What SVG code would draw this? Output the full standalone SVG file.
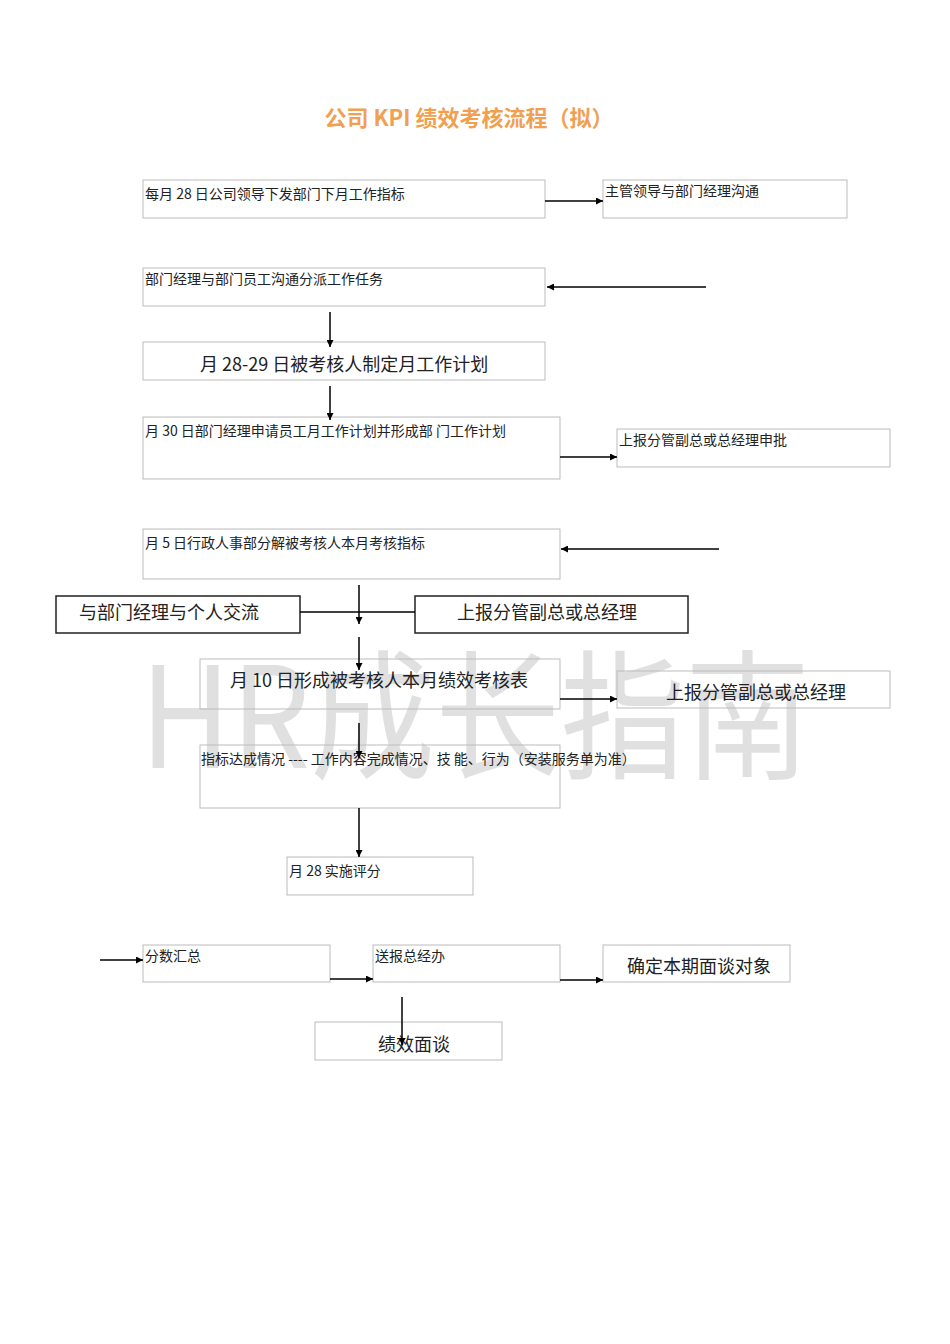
<svg xmlns="http://www.w3.org/2000/svg" width="950" height="1344" viewBox="0 0 950 1344">
<defs>
<marker id="ah" viewBox="0 0 10 10" refX="10" refY="5" markerWidth="7" markerHeight="7" markerUnits="userSpaceOnUse" orient="auto"><path d="M0,0L10,5L0,10z" fill="#000"/></marker>
<style>
.b{fill:#fff;stroke:#bbb;stroke-width:1}
.d{fill:#fff;stroke:#222;stroke-width:1.5}
.t{font-family:"Noto Sans CJK SC","Liberation Serif",serif;font-size:14px;fill:#222}
.L{font-size:18px}
.c line{stroke:#000;stroke-width:1.5}
.a{marker-end:url(#ah)}
</style>
</defs>
<rect width="950" height="1344" fill="#fff"/>
<text x="469" y="126" text-anchor="middle" style="font-family:'Noto Sans CJK SC',sans-serif;font-size:22px;font-weight:bold;fill:#f0a050">公司 KPI 绩效考核流程（拟）</text>
<g id="n1"><rect class="b" x="143" y="180" width="402" height="38"/><text class="t" x="145" y="199">每月 28 日公司领导下发部门下月工作指标</text></g>
<g id="n2"><rect class="b" x="603" y="180" width="244" height="38"/><text class="t" x="605" y="196">主管领导与部门经理沟通</text></g>
<g id="n3"><rect class="b" x="143" y="268" width="402" height="38"/><text class="t" x="145" y="284">部门经理与部门员工沟通分派工作任务</text></g>
<g id="n4"><rect class="b" x="143" y="342" width="402" height="38"/><text class="t L" x="200" y="371">月 28-29 日被考核人制定月工作计划</text></g>
<g id="n5"><rect class="b" x="143" y="417" width="417" height="62"/><text class="t" x="145" y="436">月 30 日部门经理申请员工月工作计划并形成部 门工作计划</text></g>
<g id="n6"><rect class="b" x="617" y="429" width="273" height="38"/><text class="t" x="619" y="445">上报分管副总或总经理申批</text></g>
<g id="n7"><rect class="b" x="143" y="529" width="417" height="50"/><text class="t" x="145" y="548">月 5 日行政人事部分解被考核人本月考核指标</text></g>
<g id="n8"><rect class="d" x="56" y="596" width="244" height="37"/><text class="t L" x="79" y="619">与部门经理与个人交流</text></g>
<g id="n9"><rect class="d" x="415" y="596" width="273" height="37"/><text class="t L" x="457" y="619">上报分管副总或总经理</text></g>
<g id="wm"><text x="140" y="768" textLength="670" lengthAdjust="spacingAndGlyphs" style="font-family:'Noto Sans CJK SC',sans-serif;font-size:140px;fill:#000;fill-opacity:0.12">HR成长指南</text></g>
<g id="n10"><rect class="b" x="200" y="659" width="360" height="50" fill-opacity="0"/><text class="t L" x="230" y="687">月 10 日形成被考核人本月绩效考核表</text></g>
<g id="n11"><rect class="b" x="617" y="671" width="273" height="37" fill-opacity="0"/><text class="t L" x="666" y="699">上报分管副总或总经理</text></g>
<g id="n12"><rect class="b" x="200" y="745" width="360" height="63" fill-opacity="0"/><text class="t" x="201" y="764">指标达成情况 ---- 工作内容完成情况、技 能、行为（安装服务单为准）</text></g>
<g id="n13"><rect class="b" x="287" y="857" width="186" height="38"/><text class="t" x="289" y="876">月 28 实施评分</text></g>
<g id="n14"><rect class="b" x="143" y="945" width="187" height="37"/><text class="t" x="145" y="961">分数汇总</text></g>
<g id="n15"><rect class="b" x="373" y="945" width="187" height="37"/><text class="t" x="375" y="961">送报总经办</text></g>
<g id="n16"><rect class="b" x="603" y="945" width="187" height="37"/><text class="t L" x="627" y="973">确定本期面谈对象</text></g>
<g id="n17"><rect class="b" x="315" y="1022" width="187" height="38"/><text class="t L" x="378" y="1051">绩效面谈</text></g>
<g class="c" id="connectors">
<line class="a" x1="545" y1="201" x2="603" y2="201"/>
<line class="a" x1="706" y1="287" x2="547" y2="287"/>
<line class="a" x1="330" y1="312" x2="330" y2="347"/>
<line class="a" x1="330" y1="386" x2="330" y2="420"/>
<line class="a" x1="560" y1="457" x2="617" y2="457"/>
<line class="a" x1="719" y1="549" x2="561" y2="549"/>
<line x1="300" y1="612" x2="415" y2="612"/>
<line class="a" x1="359" y1="585" x2="359" y2="624"/>
<line class="a" x1="359" y1="637" x2="359" y2="670"/>
<line class="a" x1="560" y1="699" x2="617" y2="699"/>
<line class="a" x1="359" y1="723" x2="359" y2="758"/>
<line class="a" x1="359" y1="808" x2="359" y2="857"/>
<line class="a" x1="100" y1="960" x2="143" y2="960"/>
<line class="a" x1="330" y1="979" x2="373" y2="979"/>
<line class="a" x1="560" y1="980" x2="603" y2="980"/>
<line class="a" x1="402" y1="997" x2="402" y2="1045"/>
</g>
</svg>
